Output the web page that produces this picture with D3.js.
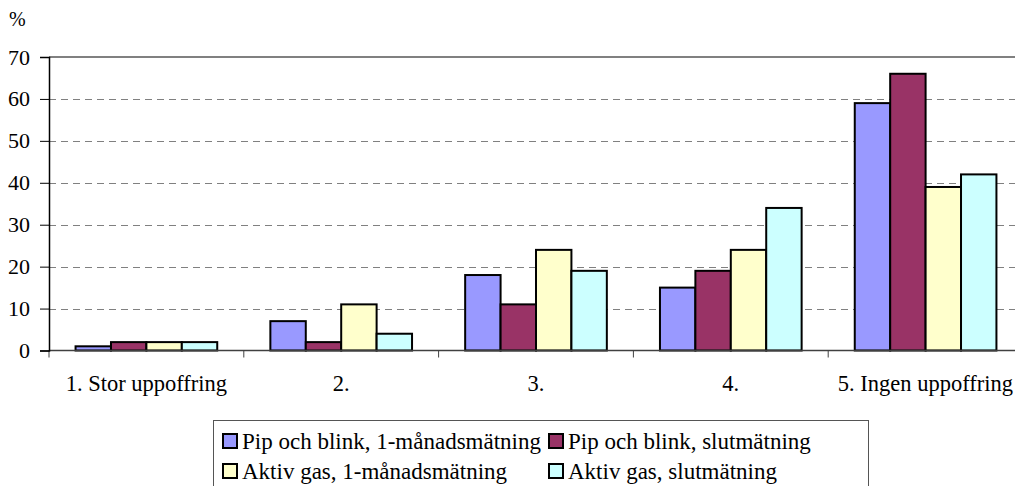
<!DOCTYPE html>
<html>
<head>
<meta charset="utf-8">
<script src="https://cdn.jsdelivr.net/npm/d3@7"></script>
<style>
  body { margin: 0; background: #fff; }
  svg { display: block; font-family: "Liberation Serif", "Times New Roman", serif; }
</style>
</head>
<body>
<svg id="chart" width="1015" height="486"></svg>
<script>
// --- Data ---
const categories = ["1. Stor uppoffring", "2.", "3.", "4.", "5. Ingen uppoffring"];
const seriesNames = [
  "Pip och blink, 1-månadsmätning",
  "Pip och blink, slutmätning",
  "Aktiv gas, 1-månadsmätning",
  "Aktiv gas, slutmätning",
];
const pipMonth = [1, 7, 18, 15, 59];
const pipFinal = [2, 2, 11, 19, 66];
const gasMonth = [2, 11, 24, 24, 39];
const gasFinal = [2, 4, 19, 34, 42];
const yTicks = [0, 10, 20, 30, 40, 50, 60, 70];
const colors = ["#9999ff", "#993366", "#ffffcc", "#ccffff"];

const series = [pipMonth, pipFinal, gasMonth, gasFinal];

// --- Layout ---
const plotL = 49, plotR = 1023, plotT = 57, plotB = 350.5;
const svg = d3.select("#chart");

const x0 = d3.scaleBand().domain(categories).range([plotL, plotR]);
// gap width 150% -> bars take 4/5.5 of each category
const x1 = d3.scaleBand().domain(d3.range(4))
  .range([x0.bandwidth() * 0.75 / 5.5, x0.bandwidth() * 4.75 / 5.5]);
const y = d3.scaleLinear().domain([0, 70]).range([plotB, plotT]);

// gridlines
svg.append("g")
  .selectAll("line")
  .data(yTicks.filter((t) => t > 0 && t < 70))
  .enter()
  .append("line")
  .attr("x1", plotL).attr("x2", plotR)
  .attr("y1", (d) => Math.round(y(d)) + 0.5).attr("y2", (d) => Math.round(y(d)) + 0.5)
  .attr("stroke", "#808080")
  .attr("stroke-dasharray", "7,5");

// top border
svg.append("line")
  .attr("x1", plotL).attr("x2", plotR)
  .attr("y1", plotT).attr("y2", plotT)
  .attr("stroke", "#808080").attr("stroke-width", 2);

// bars
categories.forEach((c, ci) => {
  series.forEach((s, si) => {
    svg.append("rect")
      .attr("x", x0(c) + x1(si))
      .attr("y", y(s[ci]))
      .attr("width", x1.bandwidth())
      .attr("height", y(0) - y(s[ci]))
      .attr("fill", colors[si])
      .attr("stroke", "#000")
      .attr("stroke-width", 2);
  });
});

// x axis line and ticks
svg.append("line")
  .attr("x1", plotL).attr("x2", plotR)
  .attr("y1", plotB).attr("y2", plotB)
  .attr("stroke", "#404040").attr("stroke-width", 1.5);
svg.append("g")
  .selectAll("line")
  .data(categories.map((c) => x0(c)).concat([plotR]))
  .enter()
  .append("line")
  .attr("x1", (d) => d).attr("x2", (d) => d)
  .attr("y1", plotB).attr("y2", plotB + 7)
  .attr("stroke", "#404040");

// y axis
const yAxis = d3.axisLeft(y).tickValues(yTicks).tickSize(9).tickPadding(10);
const ya = svg.append("g").attr("transform", `translate(${plotL},0)`).call(yAxis);
ya.attr("font-family", null).attr("font-size", null);
ya.select(".domain").attr("stroke", "#000").attr("stroke-width", 1.5);
ya.selectAll(".tick line").attr("stroke", "#000");
ya.selectAll("text")
  .attr("font-size", 22)
  .attr("fill", "#000");

svg.append("text")
  .attr("x", 9).attr("y", 26)
  .attr("font-size", 20)
  .text("%");

// category labels
svg.append("g")
  .selectAll("text")
  .data(categories)
  .enter()
  .append("text")
  .attr("x", (d) => x0(d) + x0.bandwidth() / 2)
  .attr("y", 391)
  .attr("text-anchor", "middle")
  .attr("font-size", 22.5)
  .text((d) => d)
  .each(function () {
    const b = this.getBBox();
    if (b.x + b.width > 1013) {
      d3.select(this).attr("x", +d3.select(this).attr("x") - (b.x + b.width - 1013));
    }
  });

// legend
const lg = svg.append("g");
lg.append("rect")
  .attr("x", 213.5).attr("y", 420.5)
  .attr("width", 655).attr("height", 90)
  .attr("fill", "#fff").attr("stroke", "#555");
const legPos = [[223, 441], [549, 441], [223, 471], [549, 471]];
seriesNames.forEach((name, i) => {
  const [lx, ly] = legPos[i];
  lg.append("rect")
    .attr("x", lx).attr("y", ly - 7)
    .attr("width", 14).attr("height", 14)
    .attr("fill", colors[i])
    .attr("stroke", "#000").attr("stroke-width", 2);
  lg.append("text")
    .attr("x", lx + 19).attr("y", ly + 8)
    .attr("font-size", 23)
    .text(name);
});
</script>
</body>
</html>
